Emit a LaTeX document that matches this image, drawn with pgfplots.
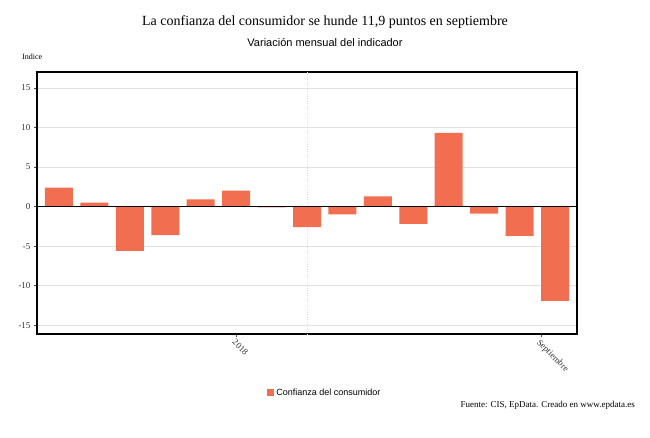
\documentclass[border=0pt]{standalone}
\usepackage{pgfplots}
\pgfplotsset{compat=1.18}
\usepackage{fontspec}
\setmainfont{Liberation Serif}
\newfontfamily\arial{Liberation Sans}
\definecolor{barcol}{RGB}{242,110,80}
\definecolor{gridc}{RGB}{225,225,225}
\pgfplotstableread{
x y
0 2.4
1 0.5
2 -5.6
3 -3.6
4 0.9
5 2.0
6 -0.1
7 -2.6
8 -1.0
9 1.3
10 -2.2
11 9.3
12 -0.9
13 -3.7
14 -11.9
}\datatab
\begin{document}
\begin{tikzpicture}[x=1pt,y=1pt]
\path[use as bounding box] (-37,-104) rectangle (613,334);
\begin{axis}[
  at={(0,0)}, anchor=south west,
  scale only axis, width=540pt, height=262pt,
  xmin=-0.62, xmax=14.62,
  ymin=-16.1, ymax=17,
  ytick={-15,-10,-5,0,5,10,15},
  ymajorgrids, major grid style={gridc, line width=0.6pt},
  xtick={5,13.6}, xticklabels={2018,Septiembre},
  extra x ticks={7}, extra x tick labels={},
  extra x tick style={major tick length=0pt, xmajorgrids=true, grid style={gray!40, dotted, line width=0.6pt}},
  axis line style={black, line width=1.2pt},
  tick style={black!70, line width=0.5pt},
  major tick length=3pt,
  tick align=outside,
  xtick pos=bottom, ytick pos=left,
  ticklabel style={font=\fontsize{9}{10}\selectfont, text=black!80},
  /pgf/number format/assume math mode=true,
  xticklabel style={rotate=-45, anchor=north west, inner sep=1pt},
  legend style={at={(0.533,-0.225)}, anchor=center, draw=none, font=\arial\fontsize{9}{10}\selectfont, inner sep=1pt},
  legend image code/.code={\fill[barcol] (0pt,-3.5pt) rectangle (7pt,3.5pt);},
  clip=false,
]
\addplot[ybar, bar width=28pt, fill=barcol, draw=none, bar shift=0pt] table[x=x,y=y] {\datatab};
\addlegendentry{Confianza del consumidor}
\draw[black, line width=1pt] (axis cs:-0.62,0) -- (axis cs:14.62,0);
\end{axis}
\node[anchor=center] at (288,312) {\fontsize{14}{16}\selectfont La confianza del consumidor se hunde 11,9 puntos en septiembre};
\node[anchor=center] at (288,291) {\arial\fontsize{11}{13}\selectfont Variación mensual del indicador};
\node[anchor=west, inner sep=0pt] at (-15,277) {\fontsize{8}{9}\selectfont Indice};
\node[anchor=east, inner sep=0pt] at (598,-71) {\fontsize{9}{10}\selectfont Fuente: CIS, EpData. Creado en www.epdata.es};
\end{tikzpicture}
\end{document}
